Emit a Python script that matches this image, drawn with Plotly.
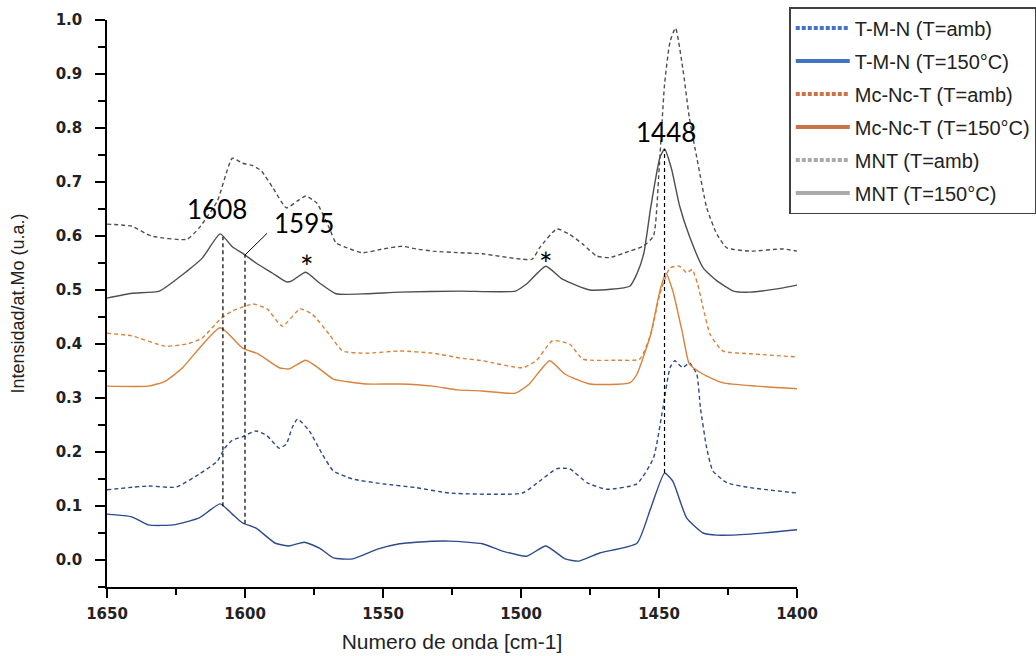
import numpy as np
import plotly.graph_objects as go

# ---------------- data ----------------
wn_mnt_amb = [1650, 1641, 1634, 1621, 1616.6, 1610, 1604.6, 1601, 1597, 1594, 1590, 1585, 1581, 1578,
              1574, 1569.5, 1567, 1563, 1557.5, 1550, 1543, 1538, 1532, 1522, 1514, 1496, 1493.3, 1487,
              1482.4, 1477.6, 1472.6, 1468, 1460.6, 1455.8, 1452, 1450, 1448, 1446, 1444, 1441.4, 1439,
              1436.3, 1432.7, 1429, 1425.4, 1417, 1405, 1400]
int_mnt_amb = [0.622, 0.618, 0.600, 0.594, 0.615, 0.665, 0.744, 0.735, 0.730, 0.720, 0.690, 0.652, 0.665,
               0.674, 0.661, 0.615, 0.587, 0.578, 0.569, 0.576, 0.581, 0.576, 0.572, 0.569, 0.567, 0.557,
               0.578, 0.613, 0.603, 0.585, 0.563, 0.560, 0.572, 0.581, 0.600, 0.720, 0.880, 0.960, 0.985,
               0.911, 0.819, 0.745, 0.652, 0.603, 0.578, 0.572, 0.576, 0.572]

wn_mnt_150 = [1650, 1641, 1631, 1621, 1615.5, 1609, 1604.6, 1600.3, 1596, 1590, 1585, 1583, 1578, 1573,
              1567, 1556, 1544, 1522, 1502, 1498, 1491, 1485, 1475, 1460.6, 1458, 1455.5, 1453, 1449.7,
              1448, 1445.5, 1442.5, 1439, 1434, 1429, 1423, 1417, 1405, 1400]
int_mnt_150 = [0.485, 0.494, 0.498, 0.535, 0.559, 0.604, 0.580, 0.566, 0.550, 0.531, 0.515, 0.517, 0.533,
               0.513, 0.493, 0.493, 0.496, 0.498, 0.498, 0.511, 0.544, 0.520, 0.500, 0.507, 0.530, 0.568,
               0.653, 0.745, 0.761, 0.725, 0.655, 0.600, 0.541, 0.517, 0.498, 0.496, 0.504, 0.509]

wn_mct_amb = [1650, 1641, 1629, 1621, 1615.5, 1609, 1604.6, 1597, 1592, 1586.5, 1580, 1575.6, 1569.5,
              1564.6, 1556, 1544, 1532, 1522, 1514, 1499.5, 1494.5, 1488.6, 1482.4, 1477.6, 1465, 1457,
              1453, 1449.7, 1446, 1442.5, 1440, 1438, 1436, 1434, 1431.5, 1426.8, 1417, 1400]
int_mct_amb = [0.420, 0.415, 0.396, 0.400, 0.411, 0.446, 0.461, 0.474, 0.465, 0.433, 0.465, 0.455, 0.418,
               0.387, 0.383, 0.387, 0.383, 0.374, 0.369, 0.356, 0.369, 0.406, 0.400, 0.372, 0.370, 0.372,
               0.418, 0.492, 0.541, 0.544, 0.532, 0.538, 0.511, 0.467, 0.418, 0.387, 0.382, 0.376]

wn_mct_150 = [1650, 1635, 1629, 1623, 1609, 1601, 1595, 1587.6, 1584, 1578, 1573, 1568, 1556, 1544, 1532,
              1523, 1514, 1502, 1497, 1489.6, 1484, 1475, 1460.6, 1458, 1453, 1449.7, 1447.5, 1445, 1441.4,
              1439, 1434, 1426.8, 1414.6, 1400]
int_mct_150 = [0.322, 0.322, 0.331, 0.354, 0.430, 0.393, 0.381, 0.356, 0.354, 0.370, 0.354, 0.335, 0.326,
               0.326, 0.322, 0.315, 0.313, 0.309, 0.326, 0.369, 0.344, 0.326, 0.328, 0.344, 0.418, 0.498,
               0.531, 0.498, 0.418, 0.363, 0.344, 0.328, 0.322, 0.317]

wn_tmn_amb = [1650, 1635, 1625, 1616.6, 1610, 1607.5, 1604.6, 1601, 1596, 1592, 1587.6, 1585, 1583, 1581,
              1576.7, 1572, 1568, 1561, 1550, 1538, 1526, 1499.5, 1493.3, 1487, 1482.4, 1476, 1469, 1458,
              1452, 1448.6, 1446, 1444.3, 1441.4, 1439, 1436.3, 1435, 1432.7, 1430.5, 1425.4, 1417, 1400]
int_tmn_amb = [0.130, 0.137, 0.135, 0.159, 0.183, 0.206, 0.222, 0.228, 0.239, 0.230, 0.207, 0.215, 0.244,
               0.261, 0.239, 0.196, 0.165, 0.150, 0.141, 0.134, 0.124, 0.124, 0.146, 0.169, 0.169, 0.143,
               0.131, 0.141, 0.189, 0.281, 0.356, 0.369, 0.356, 0.365, 0.344, 0.282, 0.207, 0.165, 0.143,
               0.134, 0.124]

wn_tmn_150 = [1650, 1641, 1635, 1626, 1616.6, 1609, 1604.6, 1601, 1596, 1589, 1584, 1578.5, 1573, 1568,
              1561, 1552, 1544, 1538, 1526, 1514, 1507, 1498, 1491, 1484, 1479, 1471.5, 1458, 1453, 1448,
              1445, 1440, 1434, 1429, 1417, 1400]
int_tmn_150 = [0.085, 0.080, 0.065, 0.065, 0.078, 0.104, 0.085, 0.069, 0.059, 0.031, 0.026, 0.033, 0.022,
               0.004, 0.002, 0.020, 0.030, 0.033, 0.035, 0.030, 0.017, 0.007, 0.026, 0.002, -0.002, 0.013,
               0.031, 0.096, 0.161, 0.146, 0.078, 0.050, 0.046, 0.048, 0.056]

legend_names = ["T-M-N (T=amb)", "T-M-N (T=150°C)", "Mc-Nc-T (T=amb)", "Mc-Nc-T (T=150°C)",
                "MNT (T=amb)", "MNT (T=150°C)"]

# peak marker lines: wavenumber, label, label position (x, y)
peak_wn = [1608, 1600, 1448]
peak_labels = ["1608", "1595", "1448"]
label_x = [1610.0, 1578.5, 1447.4]
label_y = [0.650, 0.625, 0.792]
leader_end = (1592.0, 0.605)
star_x = [1577.5, 1490.9]
star_y = [0.543, 0.549]

# ---------------- styles ----------------
curve_colors = {"tmn": "#2D4A8A", "mct": "#D9823B", "mnt": "#4E4E4E"}
legend_colors = {"tmn": "#4472C4", "mct": "#C87446", "mnt": "#AAAAAA"}

series = [
    ("tmn", wn_tmn_amb, int_tmn_amb, True),
    ("tmn", wn_tmn_150, int_tmn_150, False),
    ("mct", wn_mct_amb, int_mct_amb, True),
    ("mct", wn_mct_150, int_mct_150, False),
    ("mnt", wn_mnt_amb, int_mnt_amb, True),
    ("mnt", wn_mnt_150, int_mnt_150, False),
]

fig = go.Figure()
for key, x, y, dashed in series:
    fig.add_trace(go.Scatter(
        x=x, y=y, mode="lines", showlegend=False, hoverinfo="skip",
        line=dict(color=curve_colors[key], width=1.4, dash="4px,3px" if dashed else "solid",
                  shape="spline", smoothing=0.5)))

# legend entries (legend swatches use the lighter palette of the original)
for i, (key, x, y, dashed) in enumerate(series):
    fig.add_trace(go.Scatter(
        x=[None], y=[None], mode="lines", name=legend_names[i], legendgroup=f"g{i}",
        line=dict(color=legend_colors[key], width=4, dash="4px,2px" if dashed else "solid")))

# vertical dashed peak lines spanning from the lowest to the highest solid curve
for wn in peak_wn:
    top = float(np.interp(wn, wn_mnt_150[::-1], int_mnt_150[::-1]))
    bot = float(np.interp(wn, wn_tmn_150[::-1], int_tmn_150[::-1]))
    fig.add_shape(type="line", x0=wn, x1=wn, y0=bot, y1=top, xref="x", yref="y",
                  line=dict(color="black", width=1.2, dash="4px,3px"))

top1595 = float(np.interp(peak_wn[1], wn_mnt_150[::-1], int_mnt_150[::-1]))
fig.add_shape(type="line", x0=peak_wn[1], y0=top1595, x1=leader_end[0], y1=leader_end[1],
              xref="x", yref="y", line=dict(color="black", width=1))

for lx, ly, lt in zip(label_x, label_y, peak_labels):
    fig.add_annotation(x=lx, y=ly, text=lt, showarrow=False, xanchor="center", yanchor="middle",
                       font=dict(family="Lato", size=26, color="black"))
for sx, sy in zip(star_x, star_y):
    fig.add_annotation(x=sx, y=sy, text="*", showarrow=False, xanchor="center", yanchor="middle",
                       font=dict(family="Lato", size=32, color="black"))

tickfont = dict(family="DejaVu Sans", size=15, color="#222222", weight="bold")
fig.update_layout(
    width=1036, height=656,
    margin=dict(l=107, r=239, t=20, b=69, autoexpand=False),
    plot_bgcolor="white", paper_bgcolor="white",
    xaxis=dict(range=[1650, 1400], dtick=50, tick0=1400, showgrid=False, zeroline=False,
               showline=True, linecolor="black", linewidth=1.5, ticks="outside", ticklen=9,
               tickwidth=1.5, tickcolor="black", tickfont=tickfont, ticklabelstandoff=3,
               minor=dict(dtick=25, ticks="outside", ticklen=6, tickwidth=1.5, tickcolor="black"),
               title=dict(text="Numero de onda [cm-1]", standoff=13,
                          font=dict(family="Liberation Sans", size=21, color="#222222"))),
    yaxis=dict(range=[-0.05, 1.0], dtick=0.1, tick0=0, tickformat=".1f", showgrid=False,
               zeroline=False, showline=True, linecolor="black", linewidth=1.5, ticks="outside",
               ticklen=10, tickwidth=1.5, tickcolor="black", tickfont=tickfont, ticklabelstandoff=10,
               minor=dict(dtick=0.05, ticks="outside", ticklen=7, tickwidth=1.5, tickcolor="black"),
               title=dict(text="Intensidad/at.Mo (u.a.)", standoff=26,
                          font=dict(family="Liberation Sans", size=18, color="#222222"))),
    legend=dict(x=0.9888, y=1.0229, xanchor="left", yanchor="top", bgcolor="white",
                bordercolor="#404040", borderwidth=1.5, tracegroupgap=4, itemwidth=54,
                font=dict(family="Liberation Sans", size=20, color="#222222")),
)

fig.write_html("out.html")
